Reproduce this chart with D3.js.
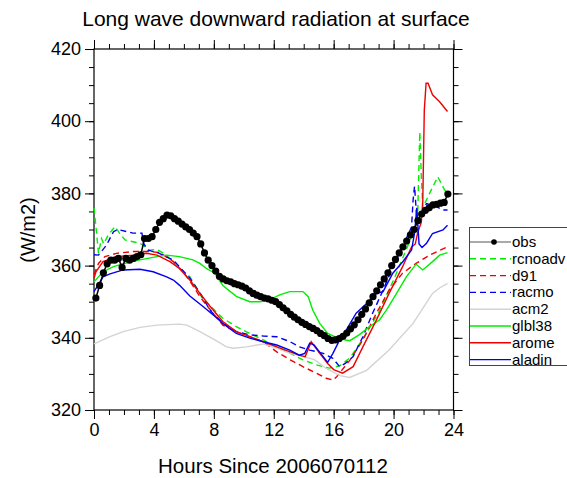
<!DOCTYPE html>
<html>
<head>
<meta charset="utf-8">
<script src="https://cdn.jsdelivr.net/npm/d3@7"></script>
<style>
  body { margin: 0; background: #fff; }
  svg text { font-family: "Liberation Sans", Arial, Helvetica, sans-serif; }
</style>
</head>
<body>
<script>
// hours since 2006070112, values in W/m2
const obsStart = 0.125, obsStep = 0.25;
const obsValues = [
  351, 354.5, 358, 360.5, 361.5, 361.5, 362, 359.5, 362, 361.5, 362, 362.5,
  363, 367.5, 367.5, 368, 370, 372, 373, 374, 373.8, 373, 372.3, 371.5,
  370.7, 370, 369, 368, 366, 363.5, 361.5, 360, 358.5, 357, 356.3, 355.8,
  355.5, 355, 354.7, 354.3, 353.8, 353, 352.3, 351.8, 351.4, 351, 350.8, 350.4,
  350, 349.2, 348.3, 347.5, 346.5, 345.7, 345, 344.3, 343.7, 343.1, 342.6, 342,
  341.2, 340.6, 339.8, 339.3, 339.4, 339.8, 340.4, 341.3, 342.5, 343.6, 345, 346.5,
  348, 349.7, 351.4, 353, 354.7, 356.3, 358, 360, 361.7, 363.5, 365.2, 366.8,
  368.5, 370, 372.5, 374.3, 375.3, 376, 376.8, 377, 377.3, 377.5, 379.8
];

const rcnoadv = [[0,376],[0.15,370],[0.3,363.4],[0.5,367.5],[0.65,366],[0.95,368.5],[1.4,370.8],[1.7,369],
  [2.07,367.1],[2.6,366.6],[3.07,366.2],[3.7,364.3],[4.2,364.5],[4.8,363],[5.5,360],[6.4,356.9],[7.3,350.5],
  [7.7,349.1],[8.6,345.4],[9.5,343.1],[10.4,341.2],[11.3,339.4],[12.2,337.5],[13.1,335.7],[13.95,333.9],
  [14.85,332.5],[15.7,331.6],[16.4,332.2],[17.1,334.5],[18,340],[19,347],[20,356],[20.6,362],[21.1,367],
  [21.6,372.6],[21.75,397],[21.85,385],[21.95,376],[22.4,380],[22.95,384.6],[23.4,381],[23.6,380]];

const d91 = [[0,357.5],[0.3,360.6],[0.73,362.5],[1.5,363.4],[2.6,363.9],[3.7,363.9],[4.4,363.6],[5.3,361.1],
  [5.95,358.3],[6.5,355.1],[7.07,351.4],[7.6,348.6],[8.6,343.5],[9.5,341.7],[10.4,340.3],[11.3,338.9],
  [12.2,336.1],[13.1,333.9],[13.95,332],[14.85,330.2],[15.5,328.8],[15.95,328.3],[16.2,329.2],[17.1,333.9],
  [17.95,339.4],[18.85,346.8],[19.7,353.2],[20.6,357.9],[21.5,360.6],[22.4,362.9],[23.6,365.2]];

const racmo = [[0,363],[0.3,362.9],[0.84,365.7],[1.3,369.4],[1.6,370],[2.2,369.4],[2.6,369],[3.2,369],
  [3.3,366.2],[3.6,364.3],[4.3,363.5],[5.3,361.5],[6.4,356.5],[7.07,352.5],[7.73,347.7],[8.6,344],[9.5,341.7],
  [10.4,340.8],[11.3,340.5],[12.2,340.3],[13.1,338.9],[13.7,337.5],[14.4,336.6],[15.3,335.7],[15.95,334.3],
  [16.4,332],[16.8,333],[17.3,334.8],[17.95,340.3],[18.6,346.8],[19.3,353.2],[19.95,359.7],[20.6,365.2],
  [21.2,370.7],[21.3,378],[21.4,382],[21.5,376],[21.6,370.8],[21.8,374],[22.2,377.2],[22.8,376.5],
  [23.3,375.4],[23.6,375.4]];

const acm2 = [[0,338.3],[1.07,340.3],[1.95,341.7],[3.07,342.9],[4.2,343.5],[5.7,343.8],[6.2,343.5],
  [7.07,341.7],[8.07,339.4],[8.85,337.5],[9.3,337.1],[10.2,337.5],[11.3,338.3],[12.2,337.1],[13.1,335.7],
  [13.95,334.8],[14.7,334],[15.5,331.5],[16.4,329.5],[17.07,329],[18.2,331],[19.7,336.6],[21.3,344],
  [22.6,352.3],[23.07,353.8],[23.6,355.1]];

const glbl38 = [[0,355.5],[0.6,358.3],[1.3,359.7],[2.2,360.8],[3.07,361.6],[4.2,362.5],[4.85,362.9],
  [5.7,362.5],[6.6,361.6],[7.07,360.6],[7.5,359.2],[8.07,357.9],[8.6,354.5],[9.5,351.5],[10.4,350],
  [11.07,350],[11.7,350.5],[12.4,351.9],[13.07,352.8],[13.95,352.8],[14.3,351.4],[14.6,347.7],[15.07,344],
  [15.6,341.2],[16.07,340.3],[16.8,339.4],[17.07,339.2],[17.7,340.8],[18.4,343.1],[19.07,345],[19.5,347.5],
  [20.2,352.3],[20.85,356.9],[21.5,360.4],[21.95,358.8],[22.6,361.1],[23.07,362.9],[23.6,363.6]];

const arome = [[0,356.5],[0.13,358.3],[0.6,361.1],[1.5,362.5],[2.6,362.9],[3.5,363.4],[4.2,362.9],
  [5.07,361.1],[5.7,359.2],[6.4,356],[7.07,352.3],[7.73,348.8],[8.6,344.5],[9.5,341.7],[10.4,340.3],
  [11.3,338.9],[12.2,337.5],[13.1,336.1],[13.7,335.2],[14.1,334.8],[14.5,338.9],[15.07,335.7],[15.6,332.9],
  [16,331.2],[16.6,330.2],[17.3,332],[17.95,337.5],[18.85,344.9],[19.7,352.3],[20.6,359.7],[21.2,365.2],
  [21.45,366],[21.6,369],[21.85,372],[21.95,378],[22.05,403],[22.17,410.5],[22.3,410.5],[22.6,407.3],
  [23.07,405.4],[23.6,402.7]];

const aladin = [[0,352.8],[0.4,355.5],[0.6,356.9],[1.07,357.7],[1.95,358.8],[3.07,359],[3.95,358.3],
  [4.85,356.9],[5.3,356],[5.7,354.6],[6.4,351.6],[7.3,348.6],[8.2,345.5],[8.6,344],[9.5,341.2],[10.4,339.9],
  [11.3,338.9],[12.2,338],[13.07,336.6],[13.7,335.2],[14.07,335.7],[14.4,338.5],[14.7,338],[15.3,334.8],
  [15.6,333.2],[15.95,335.7],[16.4,339.4],[16.85,342.2],[17.5,346.8],[18.2,349.5],[18.85,352.3],[19.3,352.8],
  [19.95,357.9],[20.6,361],[21.2,364.3],[21.4,369],[21.55,376],[21.7,366],[21.9,365],[22.2,366.2],
  [22.6,368.9],[23.3,369.9],[23.6,371.2]];

const xTicks = [0, 4, 8, 12, 16, 20, 24];
const yTicks = [320, 340, 360, 380, 400, 420];

const models = [
  {name: "rcnoadv", data: rcnoadv, color: "#00ee00", dash: "6,4"},
  {name: "d91", data: d91, color: "#ee0000", dash: "6,4"},
  {name: "racmo", data: racmo, color: "#0000ee", dash: "6,4"},
  {name: "acm2", data: acm2, color: "#d3d3d3", dash: null},
  {name: "glbl38", data: glbl38, color: "#00ee00", dash: null},
  {name: "arome", data: arome, color: "#ee0000", dash: null},
  {name: "aladin", data: aladin, color: "#0000ee", dash: null}
];

(function() {
  const W = 567, H = 478;
  const pl = 94, pr = 453.5, pt = 49, pb = 410;

  const svg = d3.select("body").append("svg")
      .attr("width", W).attr("height", H);

  const x = d3.scaleLinear().domain([0, 24]).range([pl, pr]);
  const y = d3.scaleLinear().domain([320, 420]).range([pb, pt]);

  // minor ticks, then major ticks with labels
  const minorX = d3.range(0, 25, 1), minorY = d3.range(320, 421, 5);
  const axes = [
    [d3.axisBottom(x), "translate(0," + pb + ")", minorX, xTicks, true],
    [d3.axisTop(x), "translate(0," + pt + ")", minorX, xTicks, false],
    [d3.axisLeft(y), "translate(" + pl + ",0)", minorY, yTicks, true],
    [d3.axisRight(y), "translate(" + pr + ",0)", minorY, yTicks, false]
  ];
  axes.forEach(([ax, tr, minor, major, labels]) => {
    svg.append("g").attr("transform", tr)
      .call(ax.tickValues(minor).tickSize(5).tickSizeOuter(0).tickFormat(""))
      .call(g => g.select(".domain").remove());
    const g = svg.append("g").attr("transform", tr)
      .call(ax.tickValues(major).tickSize(9).tickSizeOuter(0).tickPadding(4)
        .tickFormat(labels ? d3.format("d") : ""));
    g.select(".domain").remove();
    g.selectAll("text").style("font-size", "18px").attr("fill", "#000");
  });

  svg.append("rect")
    .attr("x", pl).attr("y", pt)
    .attr("width", pr - pl).attr("height", pb - pt)
    .attr("fill", "none").attr("stroke", "#000").attr("stroke-width", 1.2);

  const line = d3.line().x(d => x(d[0])).y(d => y(d[1]));

  models.forEach(m => {
    svg.append("path").datum(m.data)
      .attr("d", line)
      .attr("fill", "none")
      .attr("stroke", m.color)
      .attr("stroke-width", 1.4)
      .attr("stroke-dasharray", m.dash);
  });

  const obs = obsValues.map((v, i) => [obsStart + i * obsStep, v]);
  svg.append("path").datum(obs)
    .attr("d", line).attr("fill", "none").attr("stroke", "#000").attr("stroke-width", 1.5);
  svg.append("g").selectAll("circle").data(obs).enter().append("circle")
    .attr("cx", d => x(d[0])).attr("cy", d => y(d[1])).attr("r", 3.6).attr("fill", "#000");

  // title and axis labels
  svg.append("text").attr("x", 276).attr("y", 26).attr("text-anchor", "middle")
    .style("font-size", "21px").text("Long wave downward radiation at surface");
  svg.append("text").attr("x", 273).attr("y", 473).attr("text-anchor", "middle")
    .style("font-size", "20.5px").text("Hours Since 2006070112");
  svg.append("text").attr("transform", "translate(35,230) rotate(-90)").attr("text-anchor", "middle")
    .style("font-size", "20px").text("(W/m2)");

  // legend
  const lg = svg.append("g");
  lg.append("rect").attr("x", 469.5).attr("y", 227.5).attr("width", 120).attr("height", 138)
    .attr("fill", "#fff").attr("stroke", "#444").attr("stroke-width", 1);
  const entries = [{name: "obs", color: "#000", dash: null, obs: true}].concat(models);
  entries.forEach((e, i) => {
    const yy = 242 + i * 16.8;
    lg.append("line").attr("x1", 470).attr("x2", 511).attr("y1", yy).attr("y2", yy)
      .attr("stroke", e.obs ? "#555" : e.color).attr("stroke-width", e.obs ? 1 : 1.4)
      .attr("stroke-dasharray", e.dash);
    if (e.obs) lg.append("circle").attr("cx", 494).attr("cy", yy).attr("r", 2.8).attr("fill", "#000");
    lg.append("text").attr("x", 512).attr("y", yy + 5).style("font-size", "15px").text(e.name);
  });
})();
</script>
</body>
</html>
